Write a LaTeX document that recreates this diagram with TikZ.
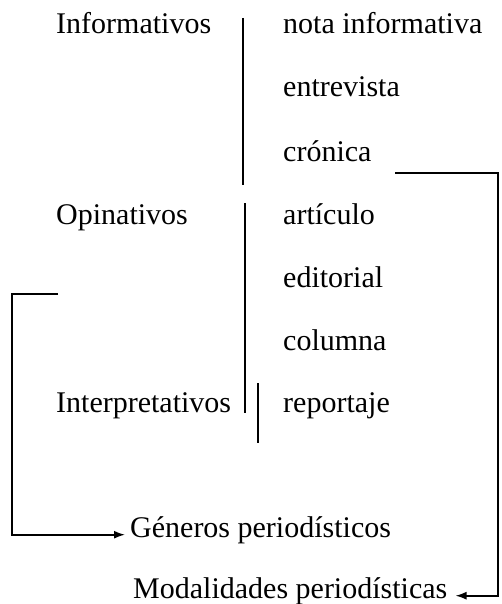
\documentclass[tikz,border=0pt]{standalone}
\usepackage{fontspec}
\setmainfont{Liberation Serif}
\usetikzlibrary{arrows.meta}
\begin{document}
\begin{tikzpicture}[x=1pt,y=-1pt,
  lbl/.style={anchor=base west,inner sep=0pt,font=\fontsize{30}{36}\selectfont},
  rule/.style={line width=1.8pt},
  conn/.style={line width=1.7pt,-{Latex[length=11pt,width=8pt]}}]
\useasboundingbox (0,0) rectangle (501,604);
% left column
\node[lbl] (inf) at (56,34) {Informativos};
\node[lbl] (opi) at (56,224) {Opinativos};
\node[lbl] (int) at (56,412) {Interpretativos};
% right column
\node[lbl] (nota) at (283,34) {nota informativa};
\node[lbl] (entr) at (283,97) {entrevista};
\node[lbl] (cron) at (283,161) {crónica};
\node[lbl] (art)  at (283,224) {artículo};
\node[lbl] (edit) at (283,287) {editorial};
\node[lbl] (col)  at (283,350) {columna};
\node[lbl] (rep)  at (283,412) {reportaje};
% bottom labels
\node[lbl] (gen) at (130,537) {Géneros periodísticos};
\node[lbl] (mod) at (133,598) {Modalidades periodísticas};
% separator rules
\coordinate (s1a) at (243,18);  \coordinate (s1b) at (243,185);
\coordinate (s2a) at (245,203); \coordinate (s2b) at (245,413);
\coordinate (s3a) at (258,383); \coordinate (s3b) at (258,443);
\draw[rule] (s1a) -- (s1b);
\draw[rule] (s2a) -- (s2b);
\draw[rule] (s3a) -- (s3b);
% brackets
\coordinate (lb0) at (58,294);
\coordinate (lb1) at (12,294);
\draw[conn] (lb0) -- (lb1) |- ([xshift=-5pt]gen.mid west);
\coordinate (rb0) at (395,173);
\coordinate (rb1) at (498,173);
\draw[conn] (rb0) -- (rb1) |- ([xshift=8pt]mod.mid east);
\end{tikzpicture}
\end{document}
